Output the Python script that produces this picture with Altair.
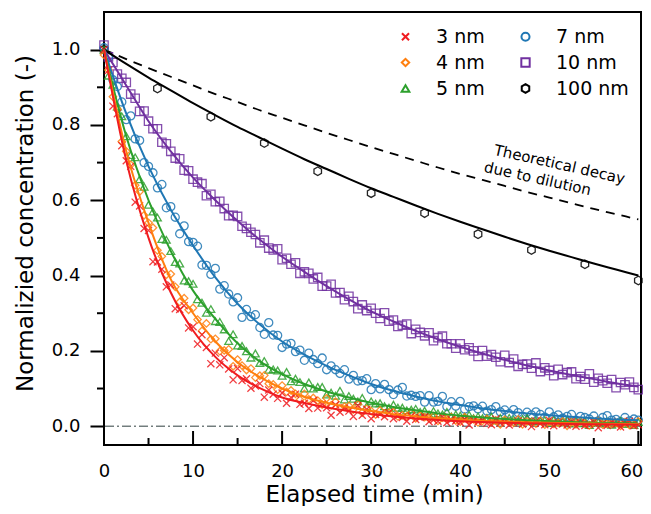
import altair as alt
import pandas as pd

# ---------------- data ----------------
TIME = [i * 0.5 for i in range(121)]          # sampling grid of the measurements (min)

C3 = [1.000, .945, .850, .830, .745, .705, .690, .595, .585, .525,
      .520, .437, .436, .417, .370, .375, .312, .310, .320, .261,
      .264, .218, .243, .209, .166, .194, .163, .182, .152, .123,
      .153, .121, .126, .101, .107, .113, .077, .096, .085, .074,
      .088, .061, .076, .085, .058, .061, .047, .068, .048, .058,
      .049, .029, .057, .037, .048, .040, .026, .055, .029, .045,
      .020, .031, .032, .025, .036, .020, .028, .023, .013, .027,
      .018, .023, .025, .012, .017, .013, .025, .009, .017, .014,
      .010, .019, .003, .015, .011, .017, .008, .004, .019, .009,
      .012, .003, .009, .014, .005, .011, -.001, .014, .007, .004,
      .016, .001, .010, .006, .003, .012, .000, .009, .002, .005,
      .011, -.004, .008, .002, .011, .005, -.002, .007, .013, .001, .004]

C4 = [.986, .946, .875, .842, .756, .730, .694, .640, .623, .560,
      .540, .527, .467, .451, .402, .404, .370, .330, .340, .309,
      .314, .283, .253, .273, .231, .232, .199, .201, .204, .159,
      .177, .161, .149, .153, .129, .134, .135, .113, .111, .097,
      .108, .091, .095, .086, .070, .086, .071, .075, .068, .057,
      .074, .055, .065, .047, .052, .054, .044, .058, .036, .046,
      .040, .031, .042, .033, .036, .037, .026, .029, .026, .035,
      .021, .028, .024, .021, .027, .014, .023, .019, .024, .015,
      .012, .024, .016, .018, .010, .014, .019, .011, .015, .005,
      .017, .012, .009, .018, .005, .013, .010, .007, .014, .004,
      .012, .006, .009, .013, .001, .011, .005, .013, .007, .002,
      .010, .014, .004, .006, .006, .009, .001, .011, .003, .005, .013]

C5 = [1.000, .931, .907, .849, .823, .770, .720, .714, .656, .636,
      .588, .570, .554, .497, .495, .465, .436, .432, .387, .385,
      .378, .337, .328, .301, .311, .279, .277, .257, .226, .244,
      .214, .213, .199, .182, .193, .168, .173, .150, .151, .148,
      .134, .144, .119, .126, .117, .100, .116, .100, .104, .104,
      .084, .089, .081, .094, .071, .080, .073, .066, .075, .053,
      .066, .060, .061, .053, .049, .057, .049, .049, .042, .044,
      .046, .038, .041, .031, .040, .034, .031, .038, .026, .031,
      .028, .025, .030, .021, .026, .021, .022, .025, .015, .022,
      .017, .022, .018, .013, .019, .022, .013, .015, .014, .016,
      .009, .017, .010, .012, .017, .007, .013, .008, .014, .003,
      .009, .011, .007, .012, .004, .008, .014, .006, .009, .003, .011]

C7 = [1.005, .979, .920, .902, .861, .814, .824, .763, .759, .700,
      .690, .673, .633, .642, .580, .583, .555, .511, .532, .490,
      .488, .478, .428, .427, .403, .419, .364, .373, .351, .330,
      .341, .289, .310, .291, .296, .262, .244, .275, .242, .241,
      .209, .218, .220, .198, .202, .175, .194, .177, .166, .181,
      .150, .160, .150, .140, .150, .125, .135, .120, .121, .126,
      .097, .113, .099, .111, .097, .084, .096, .103, .080, .082,
      .079, .081, .064, .081, .064, .066, .079, .052, .065, .053,
      .066, .045, .052, .054, .046, .053, .040, .044, .052, .038,
      .043, .033, .044, .036, .026, .037, .030, .038, .031, .024,
      .038, .025, .030, .021, .026, .031, .015, .026, .023, .019,
      .027, .014, .023, .028, .016, .018, .012, .023, .014, .019, .016]

C10 = [1.012, .981, .966, .935, .924, .913, .882, .871, .836, .837,
       .810, .790, .790, .754, .750, .730, .712, .710, .680, .678,
       .656, .648, .644, .612, .616, .596, .597, .578, .559, .560,
       .557, .531, .525, .515, .509, .487, .494, .473, .468, .471,
       .442, .446, .430, .434, .406, .410, .406, .391, .395, .372,
       .372, .377, .354, .355, .336, .345, .331, .312, .322, .307,
       .313, .300, .286, .301, .279, .282, .265, .268, .271, .246,
       .257, .249, .240, .248, .227, .235, .239, .219, .219, .207,
       .219, .203, .208, .200, .185, .201, .186, .190, .183, .171,
       .188, .169, .178, .159, .164, .165, .154, .168, .145, .155,
       .148, .134, .151, .137, .142, .144, .126, .132, .125, .139,
       .117, .127, .121, .114, .124, .102, .116, .110, .117, .103, .097]

T100 = [0, 6, 12, 18, 24, 30, 36, 42, 48, 54, 60]
C100 = [1.0, .897, .822, .752, .677, .619, .566, .510, .468, .430, .387]

# fitted curves
FIT_T = [0, 2.5, 5, 7.5, 10, 12.5, 15, 17.5, 20, 22.5, 25, 27.5, 30,
         32.5, 35, 37.5, 40, 42.5, 45, 47.5, 50, 52.5, 55, 57.5, 60]
F3 = [1.0, .705, .50, .355, .254, .184, .135, .101, .076, .0613, .0494, .0399, .032,
      .0256, .0205, .0164, .013, .011, .009, .008, .007, .006, .005, .0045, .004]
F4 = [1.0, .73, .54, .39, .30, .225, .17, .13, .10, .078, .062, .05, .04,
      .032, .026, .021, .017, .014, .012, .010, .009, .008, .007, .006, .005]
F5 = [1.0, .77, .60, .465, .36, .285, .22, .172, .138, .112, .092, .076, .062,
      .051, .042, .034, .028, .023, .019, .016, .013, .011, .009, .008, .007]
F7 = [1.0, .83, .69, .575, .48, .395, .325, .27, .225, .19, .16, .135, .112,
      .094, .079, .066, .056, .047, .040, .034, .029, .025, .021, .018, .016]
F10 = [1.0, .905, .81, .73, .66, .60, .545, .495, .45, .41, .372, .337, .305,
       .278, .253, .231, .211, .193, .176, .161, .148, .136, .125, .114, .105]
F100 = [1.0, .962, .926, .892, .858, .826, .795, .766, .737, .709, .683, .657, .632,
        .609, .586, .564, .543, .523, .503, .484, .466, .449, .432, .416, .400]
DILUTION = [1.0, .975, .951, .928, .905, .882, .861, .839, .819, .799, .779, .760, .741,
            .723, .705, .687, .670, .654, .638, .622, .607, .592, .577, .563, .549]

X_MAJOR = [0, 10, 20, 30, 40, 50, 60]
X_MINOR = [5, 15, 25, 35, 45, 55]
Y_MAJOR = [0.0, 0.2, 0.4, 0.6, 0.8, 1.0]
Y_MINOR = [0.1, 0.3, 0.5, 0.7, 0.9]

NOTE_T = [43.7, 42.6]
NOTE_V = [0.721, 0.676]
NOTE_TXT = ["Theoretical decay", "due to dilution"]

# ---------------- styling ----------------
FONT = "DejaVu Sans"
LEGEND_ORDER = ["3 nm", "4 nm", "5 nm", "7 nm", "10 nm", "100 nm"]
COLORS = {"3 nm": "#f01c20", "4 nm": "#ff7f0e", "5 nm": "#2ca02c",
          "7 nm": "#1f77b4", "10 nm": "#7030a0", "100 nm": "#000000"}
HEX = "M0,-1L0.866,-0.5L0.866,0.5L0,1L-0.866,0.5L-0.866,-0.5Z"
XMARK = "M-1,-1L1,1M-1,1L1,-1"
SHAPES = {"3 nm": XMARK, "4 nm": "diamond", "5 nm": "triangle-up",
          "7 nm": "circle", "10 nm": "square", "100 nm": HEX}
SIZES = {"3 nm": 50, "4 nm": 75, "5 nm": 65, "7 nm": 60, "10 nm": 55, "100 nm": 150}

W, H = 537, 433

series_pts = {"3 nm": (TIME, C3), "4 nm": (TIME, C4), "5 nm": (TIME, C5),
              "7 nm": (TIME, C7), "10 nm": (TIME, C10), "100 nm": (T100, C100)}
draw_order = ["100 nm", "10 nm", "7 nm", "5 nm", "4 nm", "3 nm"]
rows = []
for s in draw_order:
    ts, vs = series_pts[s]
    for t, v in zip(ts, vs):
        rows.append({"t": t, "v": v, "s": s})
pts = pd.DataFrame(rows)

fits = {"3 nm": F3, "4 nm": F4, "5 nm": F5, "7 nm": F7, "10 nm": F10, "100 nm": F100}
frows = []
for s in draw_order:
    for t, v in zip(FIT_T, fits[s]):
        frows.append({"t": t, "v": v, "s": s})
fit_df = pd.DataFrame(frows)
dil_df = pd.DataFrame({"t": FIT_T, "v": DILUTION})

xscale = alt.Scale(domain=[0, 60.3], nice=False, zero=False)
yscale = alt.Scale(domain=[-0.05, 1.1], nice=False, zero=False)
xaxis = alt.Axis(values=X_MAJOR, ticks=False, tickSize=0, labelPadding=31, labelFlush=False,
                 labelOffset={"condition": {"test": "datum.value === 60", "value": -7}, "value": 0},
                 labelBaseline="alphabetic", labelFontSize=18,
                 title="Elapsed time (min)", titleFontSize=23,
                 titleBaseline="alphabetic", titleY=56, titleX=270)
yaxis = alt.Axis(values=Y_MAJOR, format=".1f", tickSize=14, tickWidth=2, labelFlush=False,
                 tickColor="black", labelPadding=10, labelFontSize=18,
                 title="Normalizied concentration (-)", titleFontSize=23,
                 titleBaseline="alphabetic", titleX=-72, titleY=211, titleAlign="center")

X = alt.X("t:Q", scale=xscale, axis=xaxis)
Y = alt.Y("v:Q", scale=yscale, axis=yaxis)

zero_line = alt.Chart(pd.DataFrame({"v": [0.0]})).mark_rule(
    color="#2f3f3f", strokeWidth=1, strokeDash=[9, 3, 2, 3]).encode(y=alt.Y("v:Q", scale=yscale, axis=yaxis))

points = alt.Chart(pts).mark_point(filled=False, strokeWidth=1.3, opacity=0.85).encode(
    x=X, y=Y,
    color=alt.Color("s:N", scale=alt.Scale(domain=LEGEND_ORDER, range=[COLORS[s] for s in LEGEND_ORDER]),
                    legend=alt.Legend(title=None)),
    shape=alt.Shape("s:N", scale=alt.Scale(domain=LEGEND_ORDER, range=[SHAPES[s] for s in LEGEND_ORDER]),
                    legend=alt.Legend(title=None)),
    size=alt.Size("s:N", scale=alt.Scale(domain=LEGEND_ORDER, range=[SIZES[s] for s in LEGEND_ORDER]),
                  legend=None),
)

lines = alt.Chart(fit_df).mark_line(strokeWidth=2, interpolate="monotone").encode(
    x=X, y=Y,
    stroke=alt.Stroke("s:N", scale=alt.Scale(domain=LEGEND_ORDER, range=[COLORS[s] for s in LEGEND_ORDER]),
                      legend=None),
)

dilution = alt.Chart(dil_df).mark_line(strokeWidth=1.8, color="black", strokeDash=[9, 7],
                                       interpolate="monotone").encode(x=X, y=Y)

xt_major = alt.Chart(pd.DataFrame({"t": X_MAJOR})).mark_rule(color="black", strokeWidth=2).encode(
    x=X, y=alt.value(H), y2=alt.value(H - 14))
xt_minor = alt.Chart(pd.DataFrame({"t": X_MINOR})).mark_rule(color="black", strokeWidth=2).encode(
    x=X, y=alt.value(H), y2=alt.value(H - 7))
yt_minor = alt.Chart(pd.DataFrame({"v": Y_MINOR})).mark_rule(color="black", strokeWidth=2).encode(
    y=Y, x=alt.value(0), x2=alt.value(-7))

note = alt.Chart(pd.DataFrame({"t": NOTE_T, "v": NOTE_V, "txt": NOTE_TXT})).mark_text(
    angle=12.6, align="left", baseline="alphabetic", font=FONT, fontSize=15, color="black").encode(
    x=X, y=Y, text="txt:N")

chart = alt.layer(zero_line, dilution, points, lines, xt_major, xt_minor, yt_minor, note).properties(
    width=W, height=H,
    autosize=alt.AutoSizeParams(type="none"),
    padding={"left": 96, "top": 4, "right": 2, "bottom": 61},
    background="white",
).configure_view(stroke="black", strokeWidth=2).configure_axis(
    grid=False, domain=False, labelFont=FONT, titleFont=FONT, labelColor="black",
    titleColor="black", titleFontWeight="normal",
).configure_legend(
    orient="none", legendX=292, legendY=15, columns=2, columnPadding=31, rowPadding=6,
    labelFont=FONT, labelFontSize=19, labelColor="black", symbolSize=85, symbolStrokeWidth=2,
    labelOffset=21, padding=0, symbolOpacity=1,
)

chart.save("out.html", embed_options={"renderer": "svg", "actions": False})
